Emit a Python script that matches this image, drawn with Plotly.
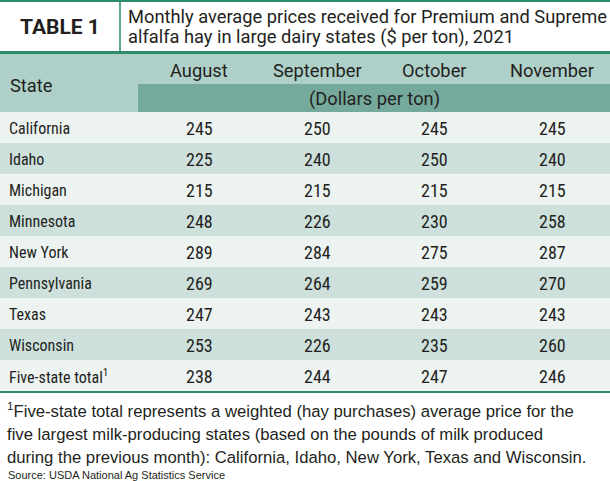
import plotly.graph_objects as go

title_label = "TABLE 1"
title_lines = ["Monthly average prices received for Premium and Supreme",
               "alfalfa hay in large dairy states ($ per ton), 2021"]
months = ["August", "September", "October", "November"]
unit_label = "(Dollars per ton)"
states = ["California", "Idaho", "Michigan", "Minnesota", "New York",
          "Pennsylvania", "Texas", "Wisconsin", "Five-state total<sup>1</sup>"]
aug = [245, 225, 215, 248, 289, 269, 247, 253, 238]
sep = [250, 240, 215, 226, 284, 264, 243, 226, 244]
octo = [245, 250, 215, 230, 275, 259, 243, 235, 247]
nov = [245, 240, 215, 258, 287, 270, 243, 260, 246]
footnote_lines = [
    "<sup>1</sup>Five-state total represents a weighted (hay purchases) average price for the",
    "five largest milk-producing states (based on the pounds of milk produced",
    "during the previous month): California, Idaho, New York, Texas and Wisconsin.",
]
source = "Source: USDA National Ag Statistics Service"

W, H = 610, 481
GREEN = "#2e8a6c"
HEAD_BG = "#aed0c8"
BAND_BG = "#74a99c"
ROW_LIGHT = "#edf3f1"
ROW_DARK = "#cde0dc"
TXT = "#231f20"
BODY_FONT = "Roboto Condensed, DejaVu Sans Condensed, Roboto"
HEAD_FONT = "Roboto"

fig = go.Figure()
shapes = []
ann = []

def rect(x0, y0, x1, y1, color):
    shapes.append(dict(type="rect", xref="x", yref="y", x0=x0, y0=y0, x1=x1, y1=y1,
                       fillcolor=color, line=dict(width=0), layer="below"))

def line(x0, y0, x1, y1, color, w):
    shapes.append(dict(type="line", xref="x", yref="y", x0=x0, y0=y0, x1=x1, y1=y1,
                       line=dict(color=color, width=w)))

def text(x, y, s, size, family, anchor="center", color=TXT):
    ann.append(dict(x=x, y=y, xref="x", yref="y", text=s, showarrow=False,
                    xanchor=anchor, yanchor="middle",
                    font=dict(size=size, family=family, color=color)))

# header
line(0, 1, W, 1, GREEN, 2)
line(120, 1, 120, 52, GREEN, 1.5)
line(0, 52.5, W, 52.5, GREEN, 3)
text(60, 27, "<b>" + title_label + "</b>", 21, HEAD_FONT)
for i, t in enumerate(title_lines):
    text(126, 16 + i * 21, t, 18.3, HEAD_FONT, anchor="left")

# column header band
rect(0, 54, W, 112, HEAD_BG)
rect(138, 84, W, 112, BAND_BG)
text(8, 85, "State", 18.3, HEAD_FONT, anchor="left")
col_x = [199, 317, 434, 552]
for x, m in zip(col_x, months):
    text(x, 70, m, 18.3, HEAD_FONT)
text((138 + W) / 2, 99, unit_label, 18.3, HEAD_FONT)

# rows
y0 = 112
rh = 31
cols = [aug, sep, octo, nov]
for i, s in enumerate(states):
    top = y0 + i * rh
    rect(0, top, W, top + rh, ROW_LIGHT if i % 2 == 0 else ROW_DARK)
    cy = top + rh / 2 + 1
    text(7, cy, s, 16, BODY_FONT, anchor="left")
    for x, c in zip(col_x, cols):
        text(x, cy, str(c[i]), 18, BODY_FONT)
line(0, y0 + len(states) * rh + 1, W, y0 + len(states) * rh + 1, GREEN, 2)

# footnote
for i, t in enumerate(footnote_lines):
    text(5, (410 if i == 0 else 412) + i * 22.5, t, 16.7, "Liberation Sans", anchor="left")
text(6, 475, source, 11, "Liberation Sans", anchor="left")

fig.update_layout(
    width=W, height=H, margin=dict(l=0, r=0, t=0, b=0),
    paper_bgcolor="white", plot_bgcolor="white",
    xaxis=dict(range=[0, W], visible=False, fixedrange=True),
    yaxis=dict(range=[H, 0], visible=False, fixedrange=True),
    shapes=shapes, annotations=ann, showlegend=False,
)
fig.write_html("out.html", config={"displayModeBar": False},
               post_script="document.body.style.margin='0';document.body.style.overflow='hidden';")
